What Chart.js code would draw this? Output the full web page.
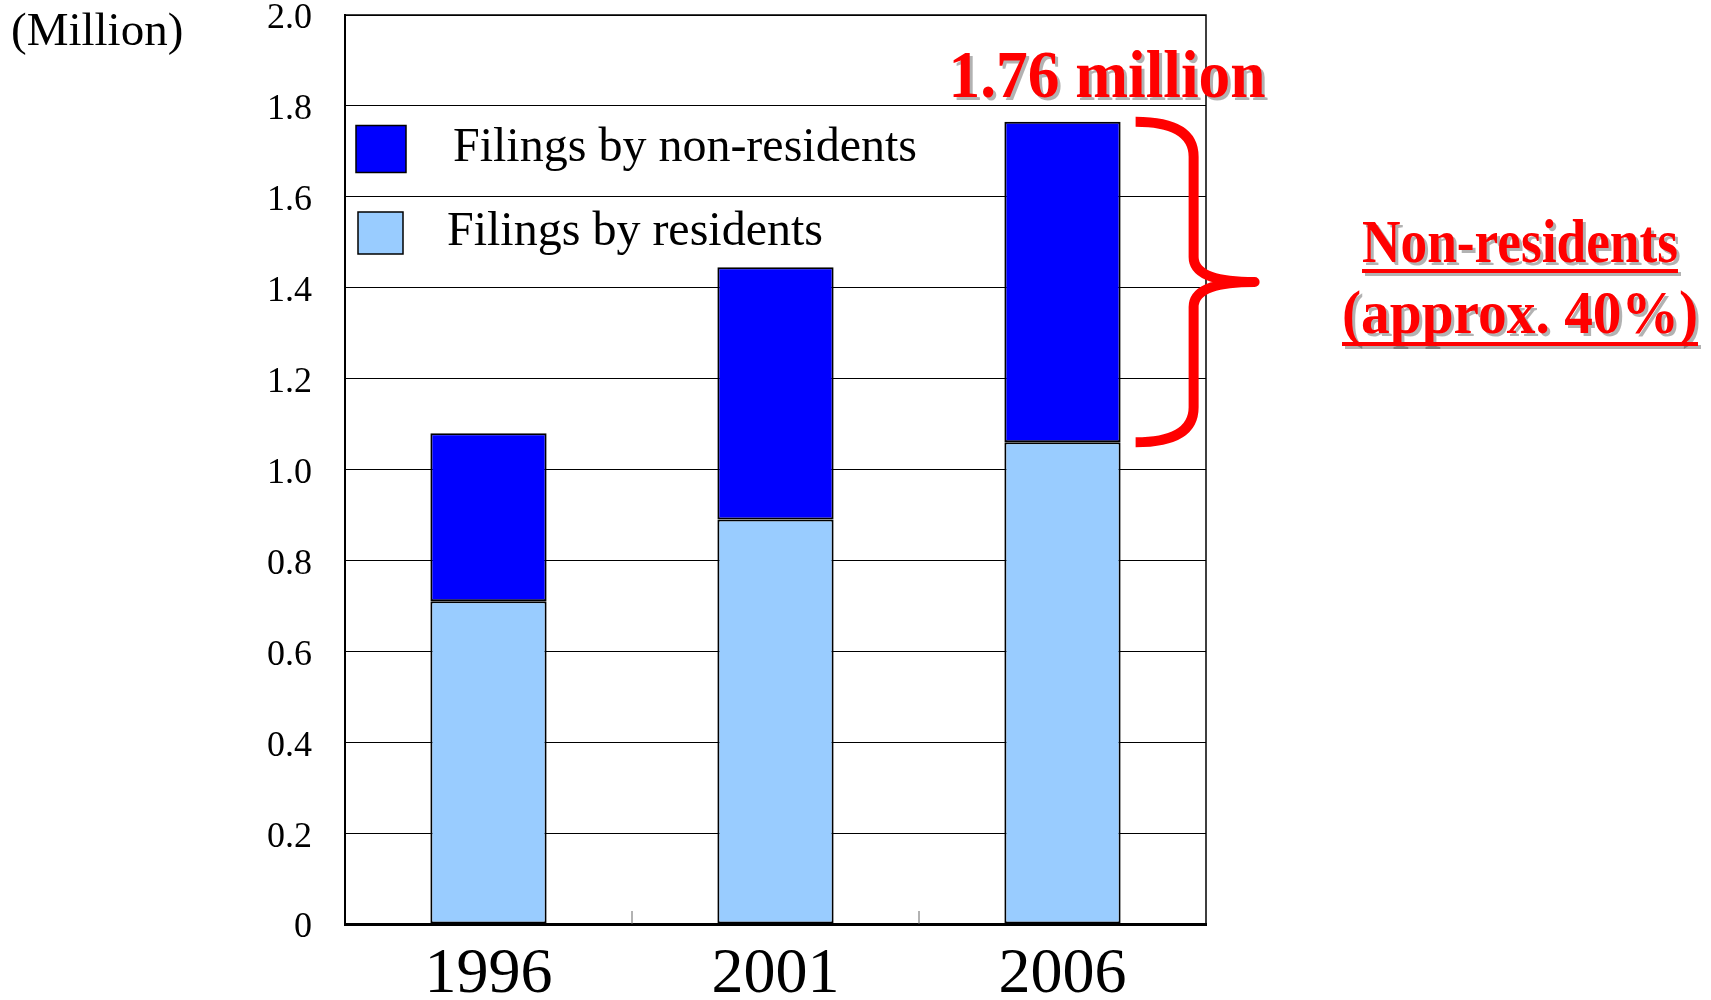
<!DOCTYPE html>
<html>
<head>
<meta charset="utf-8">
<script src="https://cdn.jsdelivr.net/npm/chart.js@4.4.1/dist/chart.umd.min.js"></script>
<style>
  html, body { margin: 0; padding: 0; background: #fff; }
  #wrap { width: 1711px; height: 1000px; position: relative; }
</style>
</head>
<body>
<div id="wrap"><canvas id="chart"></canvas></div>
<script>
const years = ["1996", "2001", "2006"];
const residents = [0.71, 0.89, 1.06];
const nonResidents = [0.37, 0.555, 0.705];
const yTickLabels = ["0", "0.2", "0.4", "0.6", "0.8", "1.0", "1.2", "1.4", "1.6", "1.8", "2.0"];
const unitLabel = "(Million)";
const totalLabel = "1.76 million";
const shareLabel = ["Non-residents", "(approx. 40%)"];

const serif = "'Liberation Serif', 'Times New Roman', serif";
const red = "#ff0000";

// legend, unit, frame, brace and red notes drawn on top of the chart
const overlay = {
  id: "overlay",
  afterDraw(chart) {
    const { ctx, chartArea: a, scales: { x } } = chart;
    ctx.save();

    // top and right frame lines
    ctx.strokeStyle = "#000";
    ctx.lineWidth = 1.5;
    ctx.beginPath();
    ctx.moveTo(a.left, a.top);
    ctx.lineTo(a.right, a.top);
    ctx.lineTo(a.right, a.bottom);
    ctx.stroke();

    // short ticks between categories
    ctx.strokeStyle = "#666";
    ctx.lineWidth = 1;
    for (let i = 1; i < years.length; i++) {
      const px = (x.getPixelForValue(i - 1) + x.getPixelForValue(i)) / 2;
      ctx.beginPath();
      ctx.moveTo(px, a.bottom);
      ctx.lineTo(px, a.bottom - 13);
      ctx.stroke();
    }

    // unit
    ctx.fillStyle = "#000";
    ctx.font = `47px ${serif}`;
    ctx.textAlign = "left";
    ctx.textBaseline = "alphabetic";
    ctx.fillText(unitLabel, 11, 45);

    // legend (non-residents first)
    const rows = [
      { ds: chart.data.datasets[1], bx: a.left + 11, cy: a.top + 134, w: 50, h: 47, tx: a.left + 108 },
      { ds: chart.data.datasets[0], bx: a.left + 13, cy: a.top + 218, w: 45, h: 42, tx: a.left + 102 },
    ];
    ctx.font = `48px ${serif}`;
    rows.forEach((r) => {
      ctx.fillStyle = r.ds.backgroundColor;
      ctx.fillRect(r.bx, r.cy - r.h / 2, r.w, r.h);
      ctx.strokeStyle = "#000";
      ctx.lineWidth = 1.5;
      ctx.strokeRect(r.bx, r.cy - r.h / 2, r.w, r.h);
      ctx.fillStyle = "#000";
      ctx.fillText(r.ds.label, r.tx, r.cy + 12);
    });

    // brace next to the 2006 bar
    const bar = chart.getDatasetMeta(1).data[2];
    const right = bar.x + bar.width / 2;
    const yT = bar.y;
    const yB = bar.base;
    const ym = (yT + yB) / 2;
    const xs = right + 15;
    const xv = right + 73;
    const xt = right + 134;
    ctx.strokeStyle = red;
    ctx.lineWidth = 10;
    ctx.lineJoin = "round";
    ctx.lineCap = "butt";
    ctx.beginPath();
    ctx.moveTo(xs, yT);
    ctx.quadraticCurveTo(xv, yT, xv, yT + 35);
    ctx.lineTo(xv, ym - 25);
    ctx.quadraticCurveTo(xv, ym, xt, ym);
    ctx.quadraticCurveTo(xv, ym, xv, ym + 25);
    ctx.lineTo(xv, yB - 35);
    ctx.quadraticCurveTo(xv, yB, xs, yB);
    ctx.stroke();

    // red notes with grey shadow
    ctx.fillStyle = red;
    ctx.shadowColor = "rgba(0,0,0,0.3)";
    ctx.shadowOffsetX = 3;
    ctx.shadowOffsetY = 3;
    ctx.shadowBlur = 0;
    ctx.font = `bold 68px ${serif}`;
    ctx.textAlign = "left";
    ctx.fillText(totalLabel, bar.x - 114, yT - 25, 317);

    const cx = 1520;
    const notes = [
      { text: shareLabel[0], base: 262, maxW: 316, ul: 269 },
      { text: shareLabel[1], base: 333, maxW: 356, ul: 342 },
    ];
    ctx.font = `bold 61px ${serif}`;
    ctx.textAlign = "center";
    notes.forEach((n) => {
      ctx.fillText(n.text, cx, n.base, n.maxW);
      const w = Math.min(ctx.measureText(n.text).width, n.maxW);
      ctx.fillRect(cx - w / 2, n.ul, w, 4);
    });

    ctx.restore();
  },
};

new Chart(document.getElementById("chart"), {
  type: "bar",
  data: {
    labels: years,
    datasets: [
      {
        label: "Filings by residents",
        data: residents,
        backgroundColor: "#99ccff",
        borderColor: "#000",
        borderWidth: 2,
        borderSkipped: false,
        categoryPercentage: 1,
        barPercentage: 0.405,
      },
      {
        label: "Filings by non-residents",
        data: nonResidents,
        backgroundColor: "#0000ff",
        borderColor: "#000",
        borderWidth: 2,
        borderSkipped: false,
        categoryPercentage: 1,
        barPercentage: 0.405,
      },
    ],
  },
  options: {
    responsive: true,
    maintainAspectRatio: false,
    animation: false,
    layout: { padding: { top: 15, right: 505, left: 0, bottom: 0 } },
    plugins: { legend: { display: false }, tooltip: { enabled: false } },
    scales: {
      x: {
        stacked: true,
        grid: { display: false, drawTicks: false },
        border: { display: true, color: "#000", width: 3 },
        ticks: { color: "#000", font: { family: serif, size: 64 }, padding: 13 },
        afterFit(s) {
          s.height = 76;
          s.paddingLeft = 0;
          s.paddingRight = 0;
        },
      },
      y: {
        stacked: true,
        min: 0,
        max: 2,
        ticks: {
          stepSize: 0.2,
          color: "#000",
          font: { family: serif, size: 36 },
          padding: 33,
          labelOffset: 4,
          callback: (v, i) => yTickLabels[i],
        },
        grid: { color: "#000", lineWidth: 1, drawTicks: false },
        border: { display: true, color: "#000", width: 2 },
        afterFit(s) {
          s.width = 345;
          s.paddingTop = 0;
          s.paddingBottom = 0;
        },
      },
    },
  },
  plugins: [overlay],
});
</script>
</body>
</html>
